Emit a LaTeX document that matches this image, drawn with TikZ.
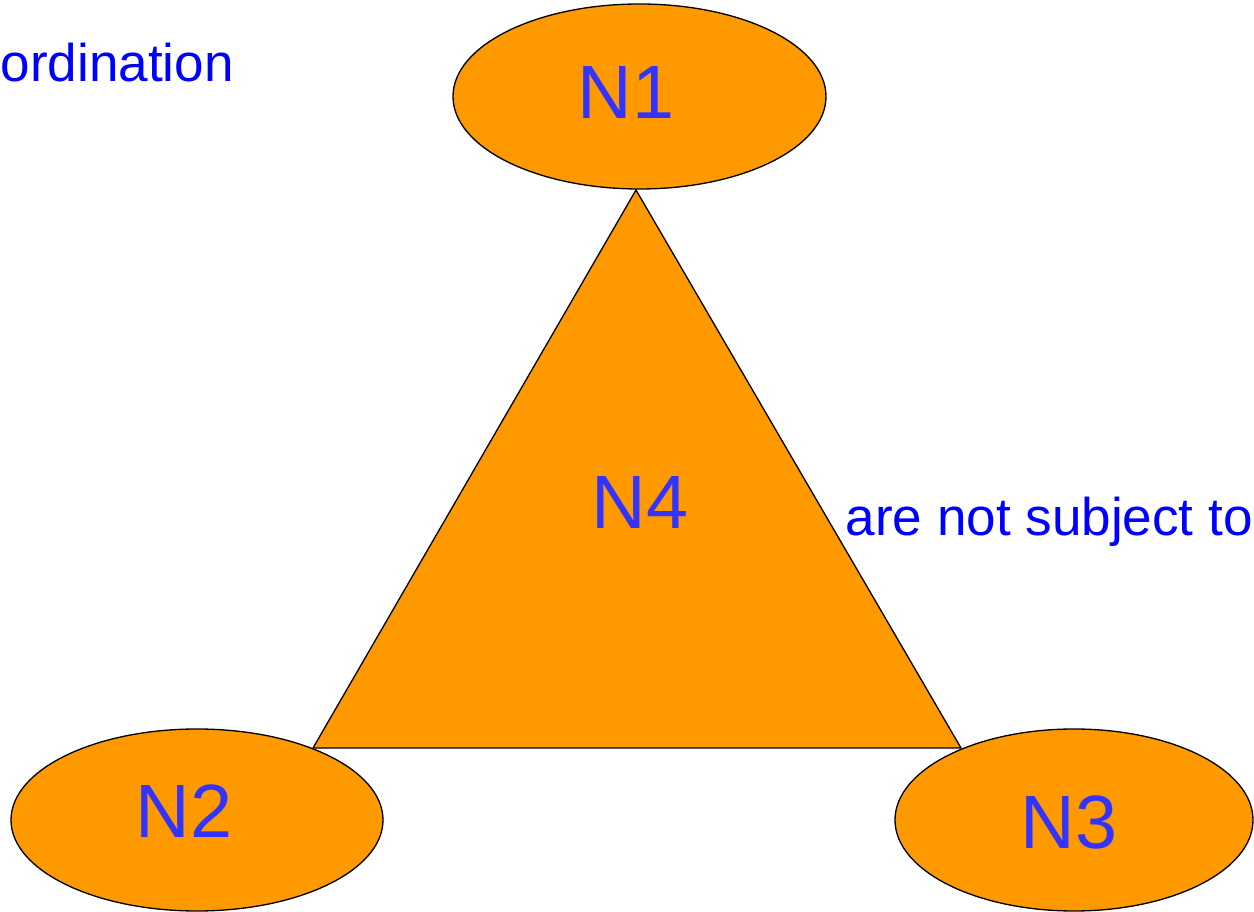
\documentclass[tikz,border=0pt]{standalone}
\usepackage{fontspec}
\setmainfont{Liberation Sans}
\usetikzlibrary{shapes.geometric}
\definecolor{nodeorange}{RGB}{255,153,0}
\definecolor{nodeblue}{RGB}{51,51,255}
\definecolor{noteblue}{RGB}{0,0,255}

\begin{document}
\begin{tikzpicture}[line width=0.75pt,
  oval/.style={ellipse,draw=black,fill=nodeorange,inner sep=0pt},
  lbl/.style={nodeblue,inner sep=0pt,anchor=base,font=\fontsize{43}{50}\selectfont},
  note/.style={noteblue,inner sep=0pt,anchor=base west,font=\fontsize{30.2}{36}\selectfont}]
  \useasboundingbox (0,0) rectangle (25.08,18.24);
  % the three ovals
  \node[oval,minimum width=7.46cm,minimum height=3.70cm] (n1) at (12.79,16.31) {};
  \node[oval,minimum width=7.44cm,minimum height=3.64cm] (n2) at (3.94,1.84) {};
  \node[oval,minimum width=7.16cm,minimum height=3.64cm] (n3) at (21.48,1.84) {};
  % triangle between them
  \coordinate (apex) at (12.72,14.44);
  \coordinate (left) at (6.26,3.28);
  \coordinate (right) at (19.22,3.28);
  \filldraw[fill=nodeorange,draw=black,line join=miter] (apex)--(left)--(right)--cycle;
  % labels
  \node[lbl] (n1txt) at (12.52,15.86) {N1};
  \node[lbl] (n2txt) at (3.68,1.48) {N2};
  \node[lbl] (n3txt) at (21.38,1.26) {N3};
  \node[lbl] (n4txt) at (12.80,7.66) {N4};
  \node[note] (ordnote) at (0,16.60) {ordination};
  \node[note] (subjnote) at (16.90,7.52) {are not subject to};
\end{tikzpicture}
\end{document}
